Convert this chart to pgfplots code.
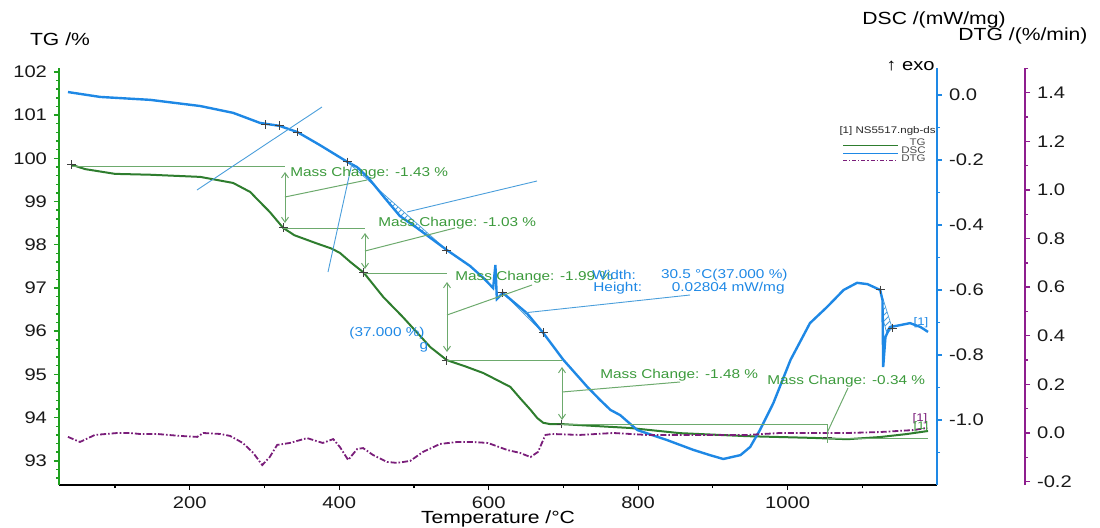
\documentclass[border=0pt]{standalone}
\usepackage{pgfplots}
\pgfplotsset{compat=1.18}
\usepackage{fontspec}
\setmainfont{Liberation Sans}[FakeStretch=1.2]
\usetikzlibrary{patterns,arrows.meta}
\definecolor{tgc}{HTML}{2E7D2E}
\definecolor{tgax}{HTML}{1FA01F}
\definecolor{annc}{HTML}{6DAA6D}
\definecolor{anntext}{HTML}{3C9A3C}
\definecolor{dscc}{HTML}{1E88E5}
\definecolor{dscthin}{HTML}{4A9EDB}
\definecolor{dtgc}{HTML}{7A1E7A}
\definecolor{dtgax}{HTML}{8E1E8E}
\newcommand{\ticksz}{\fontsize{8.4}{10}\selectfont}
\newcommand{\annsz}{\fontsize{6.4}{7.5}\selectfont}

\pgfplotstableread{
T TG
42 99.85
60 99.75
100 99.64
147 99.62
214 99.57
258 99.43
281 99.22
291 99.04
307 98.76
325 98.39
340 98.22
370 98.03
390 97.91
401 97.81
415 97.60
433 97.35
459 96.79
485 96.33
522 95.63
544 95.33
568 95.19
593 95.03
629 94.71
642 94.45
656 94.18
665 93.99
673 93.88
682 93.85
697 93.85
789 93.76
856 93.64
946 93.57
1034 93.53
1080 93.50
1124 93.55
1160 93.62
1188 93.69
}\tgdata

\pgfplotstableread{
T DSC
37 0.009
80 -0.006
147 -0.015
214 -0.034
258 -0.055
294 -0.086
320 -0.095
344 -0.114
374 -0.154
411 -0.206
424 -0.222
439 -0.255
461 -0.317
481 -0.372
504 -0.409
544 -0.477
575 -0.526
593 -0.563
606 -0.594
609 -0.523
611 -0.628
619 -0.609
651 -0.671
673 -0.732
700 -0.815
732 -0.898
749 -0.938
763 -0.969
776 -0.985
799 -1.031
839 -1.062
874 -1.092
896 -1.108
914 -1.120
937 -1.108
950 -1.083
963 -1.031
981 -0.948
1004 -0.815
1030 -0.702
1053 -0.652
1075 -0.600
1093 -0.578
1107 -0.582
1124 -0.600
1127 -0.631
1128 -0.837
1131 -0.745
1137 -0.714
1151 -0.708
1164 -0.702
1178 -0.714
1188 -0.729
}\dscdata

\pgfplotstableread{
T DTG
37 -0.016
53 -0.037
73 -0.008
103 0.000
120 0.000
133 -0.004
156 -0.004
187 -0.012
210 -0.016
218 0.000
241 -0.004
254 -0.012
271 -0.041
285 -0.082
297 -0.132
307 -0.099
317 -0.049
334 -0.041
357 -0.021
378 -0.041
392 -0.025
401 -0.058
412 -0.111
424 -0.066
432 -0.062
445 -0.090
464 -0.119
477 -0.123
495 -0.115
512 -0.078
535 -0.045
558 -0.037
579 -0.037
599 -0.041
625 -0.070
642 -0.082
656 -0.099
666 -0.078
676 -0.008
685 -0.004
722 -0.008
767 0.000
812 -0.008
856 -0.008
900 -0.008
946 -0.008
990 0.000
1034 0.000
1080 0.000
1124 0.004
1168 0.012
1187 0.021
}\dtgdata

\begin{document}
\begin{tikzpicture}
% ---------------- TG axis ----------------
\begin{axis}[
  at={(0,0)}, anchor=south west,
  scale only axis, width=439pt, height=208.5pt,
  xmin=25, xmax=1200, ymin=92.44, ymax=102.09,
  axis y line*=left, axis x line*=bottom,
  x axis line style={black, line width=1pt},
  y axis line style={tgax, line width=1.4pt},
  tick align=outside,
  major tick length=2.5pt, minor tick length=1.5pt,
  xtick={200,400,600,800,1000},
  xticklabels={200,400,600,800,1000},
  minor xtick={100,300,500,700,900,1100},
  ytick={93,94,95,96,97,98,99,100,101,102},
  yticklabels={93,94,95,96,97,98,99,100,101,102},
  minor ytick={92.6,92.8,93.2,93.4,93.6,93.8,94.2,94.4,94.6,94.8,95.2,95.4,95.6,95.8,96.2,96.4,96.6,96.8,97.2,97.4,97.6,97.8,98.2,98.4,98.6,98.8,99.2,99.4,99.6,99.8,100.2,100.4,100.6,100.8,101.2,101.4,101.6,101.8},
  xtick style={black, line width=0.6pt},
  ytick style={tgax, line width=0.7pt},
  tick label style={font=\ticksz, text=black!90},
  clip=false,
]
\addplot[tgc, line width=1pt] table[x=T, y=TG] {\tgdata};
\addplot[only marks, mark=+, mark size=2.2pt, black!75, mark options={line width=0.5pt}] coordinates {
 (42,99.85) (325,98.39) (433,97.35) (544,95.33) (697,93.85) (1053,93.53)};
\end{axis}

% ---------------- DSC axis ----------------
\begin{axis}[
  at={(0,0)}, anchor=south west,
  scale only axis, width=439pt, height=208.5pt,
  xmin=25, xmax=1200, ymin=-1.2, ymax=0.083,
  axis y line*=right, axis x line=none,
  y axis line style={dscc, line width=1.4pt},
  tick align=outside,
  major tick length=2.5pt, minor tick length=1.5pt,
  ytick={-1,-0.8,-0.6,-0.4,-0.2,0},
  yticklabels={-1.0,-0.8,-0.6,-0.4,-0.2,0.0},
  minor ytick={-1.1,-0.9,-0.7,-0.5,-0.3,-0.1},
  ytick style={dscc, line width=0.7pt},
  tick label style={font=\ticksz, text=black!90},
]
\addplot[draw=dscthin, line width=0.35pt, pattern=north east lines, pattern color=dscthin] coordinates {
 (411,-0.206) (424,-0.222) (439,-0.255) (461,-0.317) (481,-0.372) (504,-0.409) (544,-0.477)} -- cycle;
\addplot[draw=dscthin, line width=0.35pt, pattern=north east lines, pattern color=dscthin] coordinates {
 (619,-0.609) (651,-0.671) (673,-0.732)} -- cycle;
\addplot[draw=dscthin, line width=0.35pt, pattern=north east lines, pattern color=dscthin] coordinates {
 (1124,-0.600) (1127,-0.631) (1129,-0.700) (1133,-0.735) (1140,-0.717)} -- cycle;
\addplot[dscc, line width=1.2pt] table[x=T, y=DSC] {\dscdata};
\addplot[only marks, mark=+, mark size=2.2pt, black!75, mark options={line width=0.5pt}] coordinates {
 (301,-0.092) (320,-0.095) (344,-0.114) (411,-0.206) (544,-0.477) (619,-0.609) (673,-0.732) (1124,-0.600) (1140,-0.717)};
\end{axis}

% ---------------- DTG axis (offset to the right) ----------------
\begin{axis}[
  at={(0,0)}, anchor=south west,
  scale only axis, width=483pt, height=208.5pt,
  xmin=25, xmax=1317.8, ymin=-0.214, ymax=1.502,
  axis y line*=right, axis x line=none,
  y axis line style={dtgax, line width=1.4pt},
  tick align=outside,
  major tick length=2.5pt, minor tick length=1.5pt,
  ytick={-0.2,0,0.2,0.4,0.6,0.8,1.0,1.2,1.4},
  yticklabels={-0.2,0.0,0.2,0.4,0.6,0.8,1.0,1.2,1.4},
  minor ytick={-0.1,0.1,0.3,0.5,0.7,0.9,1.1,1.3,1.5},
  ytick style={dtgax, line width=0.7pt},
  tick label style={font=\ticksz, text=black!90},
]
\addplot[dtgc, line width=0.9pt, dash pattern=on 3pt off 1pt on 0.8pt off 1pt] table[x=T, y=DTG] {\dtgdata};
\end{axis}

% ---------------- annotations (pixel frame) ----------------
\begin{scope}[x=0.5pt, y=-0.5pt, shift={(-29.5pt,242.5pt)}]
 % mass change guides
 \begin{scope}[annc, line width=0.5pt]
  \draw (72,166) -- (285,166);
  \draw[{Straight Barb[length=2.5pt,width=3.5pt]}-{Straight Barb[length=2.5pt,width=3.5pt]}] (285,172) -- (285,223);
  \draw (285,197) -- (367,180);
  \draw (283,228) -- (365,228);
  \draw[{Straight Barb[length=2.5pt,width=3.5pt]}-{Straight Barb[length=2.5pt,width=3.5pt]}] (365,233) -- (365,269);
  \draw (365,251) -- (455,228);
  \draw (364,273) -- (447,273);
  \draw[{Straight Barb[length=2.5pt,width=3.5pt]}-{Straight Barb[length=2.5pt,width=3.5pt]}] (447,282) -- (447,352);
  \draw (447,315) -- (532,285);
  \draw (447,360) -- (562,360);
  \draw[{Straight Barb[length=2.5pt,width=3.5pt]}-{Straight Barb[length=2.5pt,width=3.5pt]}] (562,367) -- (562,420);
  \draw (562,392) -- (680,382);
  \draw (561,424) -- (827,424) -- (827,443);
  \draw (827,438) -- (928,438);
  \draw (827,433) -- (848,388);
 \end{scope}
 % DSC tangents / leaders
 \begin{scope}[dscthin, line width=0.45pt]
  \draw (197,190) -- (322,107);
  \draw (328,272) -- (352,163);
  \draw (407,212) -- (537,181);
  \draw (523,313) -- (690,295);
 \end{scope}
 % texts
 \begin{scope}[font=\annsz, text=anntext]
  \node[anchor=west, inner sep=0] at (290,173) {Mass Change: -1.43 \%};
  \node[anchor=west, inner sep=0] at (378,223) {Mass Change: -1.03 \%};
  \node[anchor=west, inner sep=0] at (455,277) {Mass Change: -1.99 \%};
  \node[anchor=west, inner sep=0] at (600,375) {Mass Change: -1.48 \%};
  \node[anchor=west, inner sep=0] at (767,381) {Mass Change: -0.34 \%};
 \end{scope}
 \begin{scope}[font=\annsz, text=dscc]
  \node[anchor=west, inner sep=0] at (592,275) {Width:};
  \node[anchor=east, inner sep=0] at (788,275) {30.5 °C(37.000 \%)};
  \node[anchor=west, inner sep=0] at (593,288) {Height:};
  \node[anchor=east, inner sep=0] at (785,288) {0.02804 mW/mg};
  \node[anchor=east, inner sep=0] at (425,333) {(37.000 \%)};
  \node[inner sep=0] at (424,347) {g};
  \node[inner sep=0, font=\fontsize{5.5}{6}\selectfont] at (921,323) {[1]};
 \end{scope}
 \node[inner sep=0, font=\fontsize{5.5}{6}\selectfont, text=dtgc] at (920,419) {[1]};
 \node[inner sep=0, font=\fontsize{5.5}{6}\selectfont, text=anntext] at (921,427) {[1]};
 % legend
 \node[anchor=east, inner sep=0, font=\fontsize{4.8}{5.5}\selectfont, text=black!85] at (936,131) {[1] NS5517.ngb-ds};
 \draw[tgc, line width=0.5pt] (843,145) -- (898,145);
 \node[anchor=east, inner sep=0, font=\fontsize{4.8}{5.5}\selectfont, text=black!70] at (926,142) {TG};
 \draw[dscc, line width=0.5pt] (843,153) -- (898,153);
 \node[anchor=east, inner sep=0, font=\fontsize{4.8}{5.5}\selectfont, text=black!70] at (926,150) {DSC};
 \draw[dtgc, line width=0.5pt, dash pattern=on 2pt off 1pt on 0.6pt off 1pt] (843,160) -- (898,160);
 \node[anchor=east, inner sep=0, font=\fontsize{4.8}{5.5}\selectfont, text=black!70] at (926,158) {DTG};
 % axis titles
 \node[font=\fontsize{8.8}{10}\selectfont] at (60,39) {TG /\%};
 \node[font=\fontsize{8.8}{10}\selectfont] at (934,20) {DSC /(mW/mg)};
 \node[font=\fontsize{8.8}{10}\selectfont] at (1023,36) {DTG /(\%/min)};
 \node[anchor=east, inner sep=0, font=\fontsize{8.4}{10}\selectfont] at (935,66) {↑ exo};
 \node[font=\fontsize{8.8}{10}\selectfont] at (498,519) {Temperature /°C};
 \pgfresetboundingbox
 \path[use as bounding box] (0,0) rectangle (1100,527);
\end{scope}
\end{tikzpicture}
\end{document}
